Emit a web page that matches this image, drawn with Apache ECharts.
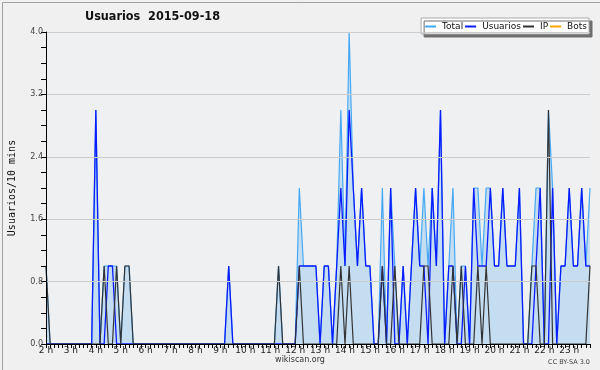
<!DOCTYPE html>
<html>
<head>
<meta charset="utf-8">
<script src="https://cdn.jsdelivr.net/npm/echarts@6/dist/echarts.min.js"></script>
<style>html,body{margin:0;padding:0;background:#f0f0f0}#c{width:600px;height:370px}</style>
</head>
<body>
<div id="c"></div>
<script>
// 10-minute slots from 2:00 to 23:50
const startHour = 2;
const slotMinutes = 10;
const slotCount = 132;
const hourLabels = ['2 h','3 h','4 h','5 h','6 h','7 h','8 h','9 h','10 h','11 h','12 h','13 h','14 h','15 h','16 h','17 h','18 h','19 h','20 h','21 h','22 h','23 h'];
const yTicks = [0, 0.8, 1.6, 2.4, 3.2, 4.0];

const totalValues = [
  1,0,0,0,0,0,0,0,0,0,0,0,
  3,0,1,1,1,1,0,1,1,0,0,0,
  0,0,0,0,0,0,0,0,0,0,0,0,
  0,0,0,0,0,0,0,0,1,0,0,0,
  0,0,0,0,0,0,0,0,1,0,0,0,
  0,2,1,1,1,1,0,1,1,0,1,3,
  1,4,2,1,2,1,1,0,0,2,0,2,
  1,0,1,0,1,2,1,2,1,2,1,3,
  0,1,2,0,1,1,0,2,2,1,2,2,
  1,1,2,1,1,1,2,0,0,1,2,2,
  0,3,2,0,1,1,2,1,1,2,1,2
];
const usuariosValues = [
  0,0,0,0,0,0,0,0,0,0,0,0,
  3,0,0,1,1,0,0,0,0,0,0,0,
  0,0,0,0,0,0,0,0,0,0,0,0,
  0,0,0,0,0,0,0,0,1,0,0,0,
  0,0,0,0,0,0,0,0,0,0,0,0,
  0,1,1,1,1,1,0,1,1,0,1,2,
  1,3,2,1,2,1,1,0,0,1,0,2,
  0,0,1,0,1,2,1,1,0,2,1,3,
  0,1,1,0,0,1,0,2,1,1,1,2,
  1,1,2,1,1,1,2,0,0,0,1,2,
  0,0,2,0,1,1,2,1,1,2,1,1
];
const ipValues = [
  1,0,0,0,0,0,0,0,0,0,0,0,
  0,0,1,0,0,1,0,1,1,0,0,0,
  0,0,0,0,0,0,0,0,0,0,0,0,
  0,0,0,0,0,0,0,0,0,0,0,0,
  0,0,0,0,0,0,0,0,1,0,0,0,
  0,1,0,0,0,0,0,0,0,0,0,1,
  0,1,0,0,0,0,0,0,0,1,0,0,
  1,0,0,0,0,0,0,1,1,0,0,0,
  0,0,1,0,1,0,0,0,1,0,1,0,
  0,0,0,0,0,0,0,0,0,1,1,0,
  0,3,0,0,0,0,0,0,0,0,0,1
];
const botsValues = [
  0,0,0,0,0,0,0,0,0,0,0,0,
  0,0,0,0,0,0,0,0,0,0,0,0,
  0,0,0,0,0,0,0,0,0,0,0,0,
  0,0,0,0,0,0,0,0,0,0,0,0,
  0,0,0,0,0,0,0,0,0,0,0,0,
  0,0,0,0,0,0,0,0,0,0,0,0,
  0,0,0,0,0,0,0,0,0,0,0,0,
  0,0,0,0,0,0,0,0,0,0,0,0,
  0,0,0,0,0,0,0,0,0,0,0,0,
  0,0,0,0,0,0,0,0,0,0,0,0,
  0,0,0,0,0,0,0,0,0,0,0,0
];

const categories = [];
for (let i = 0; i < slotCount; i++) {
  const m = startHour * 60 + i * slotMinutes;
  categories.push(Math.floor(m / 60) + ':' + String(m % 60).padStart(2, '0'));
}

const chart = echarts.init(document.getElementById('c'), null, {renderer: 'canvas'});
const sansFont = "'DejaVu Sans', Verdana, sans-serif";
chart.setOption({
  animation: false,
  backgroundColor: '#f0f0f0',
  title: {
    text: 'Usuarios  2015-09-18',
    left: 85, top: 10, padding: 0,
    textStyle: {fontFamily: "'DejaVu Sans Condensed','DejaVu Sans',sans-serif", fontWeight: 'bold', fontSize: 12.5, color: '#111'}
  },
  legend: {
    right: 11, top: 18,
    itemWidth: 11, itemHeight: 2, itemGap: 2,
    padding: [4, 2, 3, 4],
    backgroundColor: '#ffffff',
    borderColor: '#aaaaaa', borderWidth: 1, borderRadius: 0,
    shadowColor: 'rgba(110,110,110,1)', shadowBlur: 0, shadowOffsetX: 3, shadowOffsetY: 3,
    icon: 'rect',
    textStyle: {fontFamily: sansFont, fontSize: 9, color: '#111', padding: [0, 0, 0, 1]},
    data: ['Total', 'Usuarios', 'IP', 'Bots']
  },
  grid: {left: 46, right: 10, top: 32, bottom: 26, show: true, backgroundColor: '#eef0f2', borderWidth: 0,
         containLabel: false, outerBoundsMode: 'none'},
  xAxis: {
    type: 'category', data: categories, boundaryGap: false, z: 5,
    axisLine: {lineStyle: {color: '#000', width: 1}},
    axisTick: {interval: 0, length: 4, lineStyle: {color: '#000'}},
    axisLabel: {
      interval: function (idx) { return idx % 6 === 0; },
      formatter: function (v, idx) { return hourLabels[Math.round(idx / 6)]; },
      margin: 2, fontFamily: sansFont, fontSize: 9, color: '#222'
    },
    splitLine: {show: false}
  },
  yAxis: {
    type: 'value', min: yTicks[0], max: yTicks[yTicks.length - 1], interval: 0.8, z: 5,
    name: 'Usuarios/10 mins', nameLocation: 'middle', nameRotate: 90, nameGap: 29,
    nameTextStyle: {fontFamily: "'DejaVu Sans Mono', monospace", fontSize: 10, color: '#111'},
    axisLine: {show: true, lineStyle: {color: '#000', width: 1}},
    axisTick: {show: true, length: 5, lineStyle: {color: '#000'}},
    minorTick: {show: true, splitNumber: 4, length: 5, lineStyle: {color: '#000'}},
    axisLabel: {formatter: function (v) { return v.toFixed(1); }, margin: 3, fontFamily: sansFont, fontSize: 8, color: '#444'},
    splitLine: {show: true, lineStyle: {color: '#cccccc', width: 1}}
  },
  series: [
    {name: 'Total', type: 'line', data: totalValues, symbol: 'none', z: 2,
     lineStyle: {color: '#45a8f5', width: 1.2}, itemStyle: {color: '#45a8f5'},
     areaStyle: {color: '#c5ddf1', opacity: 1}},
    {name: 'Usuarios', type: 'line', data: usuariosValues, symbol: 'none', z: 3,
     lineStyle: {color: '#0a1cff', width: 1.3}, itemStyle: {color: '#0a1cff'}},
    {name: 'IP', type: 'line', data: ipValues, symbol: 'none', z: 4,
     lineStyle: {color: '#333333', width: 1.2}, itemStyle: {color: '#333333'}},
    {name: 'Bots', type: 'line', data: botsValues, symbol: 'none', z: 1,
     lineStyle: {color: '#ffa500', width: 1.2}, itemStyle: {color: '#ffa500'}}
  ],
  graphic: [
    {type: 'rect', left: 0, top: 0, z: -10, silent: true,
     shape: {x: 0.5, y: 0.5, width: 599, height: 369},
     style: {fill: 'none', stroke: '#a0a0a0', lineWidth: 1}},
    {type: 'text', left: 'center', top: 356, style: {text: 'wikiscan.org', font: "8px 'DejaVu Sans', sans-serif", fill: '#333'}},
    {type: 'text', right: 10, top: 359, style: {text: 'CC BY-SA 3.0', font: "6.5px 'DejaVu Sans', sans-serif", fill: '#444'}}
  ]
});
</script>
</body>
</html>
